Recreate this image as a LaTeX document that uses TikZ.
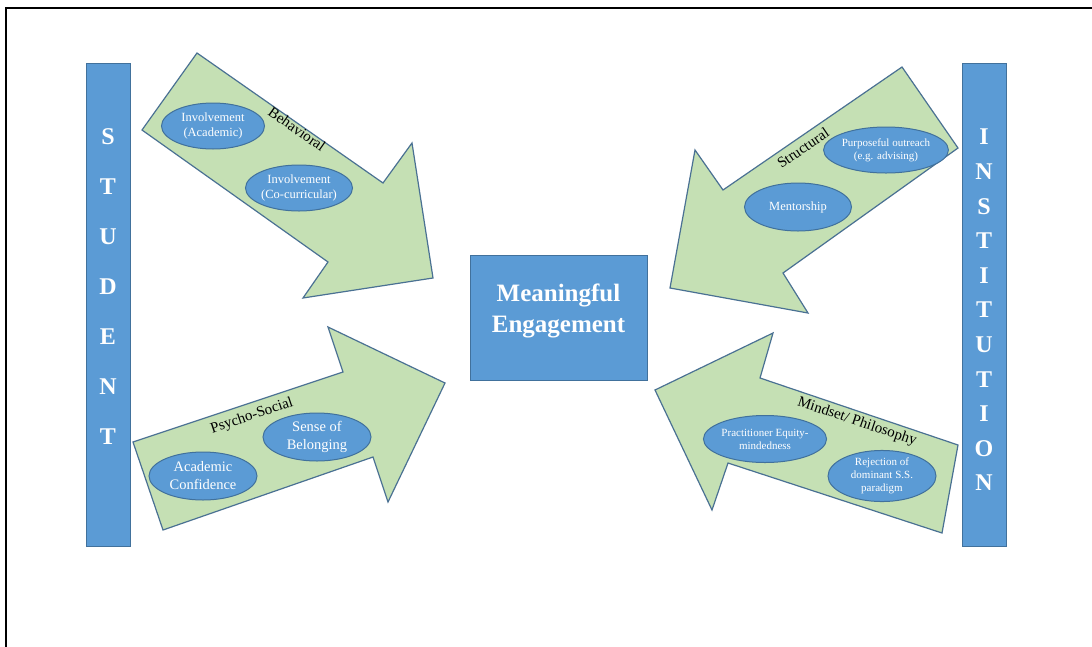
\documentclass[tikz,border=0pt]{standalone}
\usepackage{fontspec}
\setmainfont{Liberation Serif}
\usetikzlibrary{shapes.geometric}
\definecolor{bfill}{HTML}{5B9BD5}
\definecolor{bline}{HTML}{41719C}
\definecolor{gfill}{HTML}{C5E0B4}
\definecolor{gline}{HTML}{4A7193}
\begin{document}
\begin{tikzpicture}[x=1pt,y=-1pt,
 bar/.style={draw=bline, fill=bfill, line width=1pt, inner sep=0pt},
 bigarrow/.style={draw=gline, fill=gfill, line width=1.2pt, line join=miter},
 oval/.style={ellipse, draw=bline, fill=bfill, line width=1pt, text=white, align=center, inner sep=0pt, minimum width=106pt, minimum height=48pt},
 letter/.style={text=white, font=\fontsize{24}{24}\selectfont\bfseries, inner sep=0pt},
 cat/.style={text=black, inner sep=0pt, font=\fontsize{15}{15}\selectfont},
 fb/.style={font=\fontsize{12.5}{15}\selectfont},
 fp/.style={font=\fontsize{14.5}{18}\selectfont},
 fs/.style={font=\fontsize{11}{13}\selectfont}
]
\useasboundingbox (0,0) rectangle (1092,646);
\fill[white] (0,0) rectangle (1092,646);
\draw[line width=2.5pt] (6,650) -- (6,8) -- (1096,8);

% side bars
\node[bar, minimum width=44pt, minimum height=483pt] (student) at (108,304.5) {};
\node[bar, minimum width=44pt, minimum height=483pt] (institution) at (984,304.5) {};
\foreach \l [count=\i] in {S,T,U,D,E,N,T}
  \node[letter] (s\i) at (108,{137+50*(\i-1)}) {\l};
\foreach \l [count=\i] in {I,N,S,T,I,T,U,T,I,O,N}
  \node[letter] (n\i) at (984,{137+34.6*(\i-1)}) {\l};

% centre box
\node[bar, minimum width=177pt, minimum height=125pt] (me) at (558.5,317.5) {};
\node[text=white, font=\fontsize{25}{31}\selectfont\bfseries, align=center, inner sep=0pt] (metext) at (558.5,311) {Meaningful\\Engagement};

% big arrows
\draw[bigarrow] (197,53)--(383,183)--(412,143)--(433,278)--(303,298)--(328,262)--(142,130)--cycle;
\draw[bigarrow] (133,442)--(343,372)--(328,327)--(445,383)--(388,502)--(373,457)--(163,530)--cycle;
\draw[bigarrow] (902,67)--(958,148)--(783,273)--(808,313)--(670,288)--(695,150)--(723,190)--cycle;
\draw[bigarrow] (958,445)--(942,533)--(728,463)--(712,510)--(655,390)--(773,333)--(760,378)--cycle;

% category labels
\node[cat, rotate=-35] (lbeh) at (297,129) {Behavioral};
\node[cat, rotate=18.5] (lpsy) at (252,416) {Psycho-Social};
\node[cat, rotate=34.5] (lstr) at (803,148) {Structural};
\node[cat, rotate=-18.7] (lmin) at (857,422) {Mindset/ Philosophy};

% ovals
\node[oval, fb, minimum width=103pt, minimum height=46pt] (ia) at (213,126) {Involvement\\(Academic)};
\node[oval, fb, minimum width=107pt, minimum height=46pt] (ic) at (299,188) {Involvement\\(Co-curricular)};
\node[oval, fp, minimum width=108pt, minimum height=48pt] (ac) at (203,476) {Academic\\Confidence};
\node[oval, fp, minimum width=108pt, minimum height=48pt] (sb) at (317,437) {Sense of\\Belonging};
\node[oval, fs, minimum width=106pt, minimum height=46pt] (po) at (886,150) {Purposeful outreach\\(e.g. advising)};
\node[oval, font=\fontsize{12.5}{15}\selectfont, minimum width=107pt, minimum height=48pt] (mt) at (798,207) {Mentorship};
\node[oval, fs, minimum width=107pt, minimum height=47pt] (pe) at (765,439) {Practitioner Equity-\\mindedness};
\node[oval, fs, minimum width=108pt, minimum height=48pt] (rd) at (882,476) {Rejection of\\dominant S.S.\\paradigm};
\end{tikzpicture}
\end{document}
